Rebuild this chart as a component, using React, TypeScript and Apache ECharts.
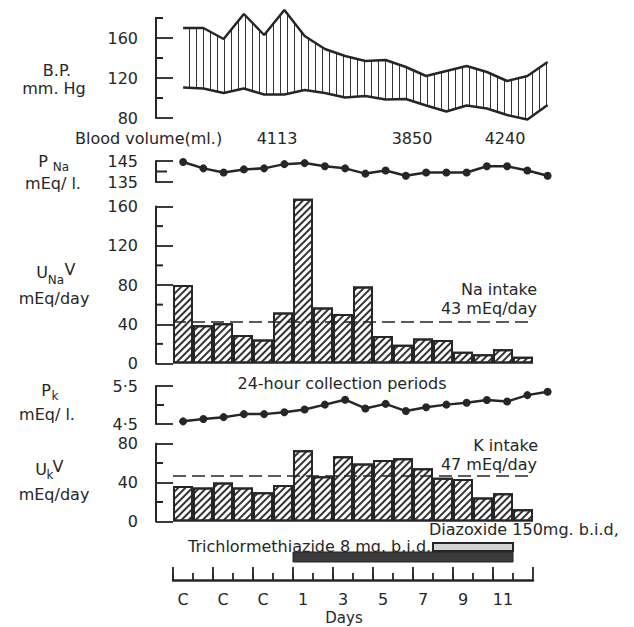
import React, { useEffect, useRef } from 'react';
import * as echarts from 'echarts';

// ---------- data ----------
const BP_SYSTOLIC = [170, 170, 159, 184, 163, 188, 162, 149, 142, 137, 138, 131, 122, 127, 132, 126, 117, 122, 136];
const BP_DIASTOLIC = [110.5, 109.5, 105, 109.5, 103.5, 103.5, 108, 105, 100.5, 102, 98.5, 99, 92.5, 86.5, 92.5, 89.5, 83, 78.5, 93];
const P_NA = [144.5, 141.5, 139.5, 141, 141.5, 143.5, 144, 142.5, 141.5, 139, 140.5, 138, 139.5, 139.5, 139.5, 142.5, 142.5, 140.5, 138];
const U_NA_V = [80, 39, 41, 29, 24.5, 52, 168, 57, 50.5, 78.5, 28, 19, 25.5, 24, 12, 9.5, 14.5, 7];
const P_K = [4.57, 4.63, 4.68, 4.76, 4.76, 4.81, 4.88, 5.01, 5.14, 4.91, 5.03, 4.84, 4.94, 5.01, 5.06, 5.13, 5.09, 5.26, 5.35];
const U_K_V = [36.5, 35, 40, 35, 30, 37.5, 73, 46.5, 67, 59.5, 63, 65, 54.5, 45, 43.5, 24.5, 29, 12.5];
const NA_INTAKE = 43;
const K_INTAKE = 47;
const DAY_LABELS = ['C', '', 'C', '', 'C', '', '1', '2', '3', '4', '5', '6', '7', '8', '9', '10', '11', '12'];
const BLOOD_VOLUME = ['4113', '3850', '4240'];
const TREATMENT_NAMES = ['Trichlormethiazide 8 mg. b.i.d.', 'Diazoxide 150mg. b.i.d,'];
const TREATMENT_START = [6, 13];
const TREATMENT_END = [17, 17];

// ---------- layout / style ----------
const INK = '#262626';
const FONT = '"DejaVu Sans", "Liberation Sans", sans-serif';
const FS = 16;
const LEFT = 173;
const LINE_STEP = 20.25;
const BAR_STEP = 20;
const Y_OFFSET = 17;

const CAT19 = BP_SYSTOLIC.map((_, i) => 'p' + i);
const CAT18 = U_NA_V.map((_, i) => 'd' + i);

// panel specs: grid box, y range, long (labelled) ticks, short ticks
const PANELS = [
  { top: 18, height: 100, cats: CAT19, step: LINE_STEP, min: 80, max: 180, interval: 20, longT: [80, 120, 160], shortT: [100, 140, 180], shortLen: 8 },
  { top: 161, height: 21, cats: CAT19, step: LINE_STEP, min: 135, max: 145, interval: 5, longT: [135, 145], shortT: [140], shortLen: 12 },
  { top: 206.5, height: 157, cats: CAT18, step: BAR_STEP, min: 0, max: 160, interval: 20, longT: [0, 40, 80, 120, 160], shortT: [20, 60, 100, 140], shortLen: 8 },
  { top: 386, height: 38, cats: CAT19, step: LINE_STEP, min: 4.5, max: 5.5, interval: 0.5, longT: [4.5, 5.5], shortT: [5], shortLen: 9 },
  { top: 443.5, height: 78, cats: CAT18, step: BAR_STEP, min: 0, max: 80, interval: 20, longT: [0, 40, 80], shortT: [20, 60], shortLen: 8 },
];
const DAYS_GRID = { top: 530, height: 50 };

const barDecal = { symbol: 'rect', symbolSize: 1, dashArrayX: [1, 0], dashArrayY: [1.2, 3], rotation: -Math.PI / 4, color: '#333' };
const bpDecal = { symbol: 'rect', symbolSize: 1, dashArrayX: [1, 5.5], dashArrayY: [1, 0], rotation: 0, color: '#333' };

function txt(text: string, x: number, y: number, align = 'center', size = FS) {
  return { type: 'text', x, y, silent: true, style: { text, fill: INK, font: `${size}px ${FONT}`, textAlign: align, textVerticalAlign: 'middle' } };
}

function buildOption() {
  const N = PANELS.length; // 5
  const grids: any[] = [];
  const xAxis: any[] = [];
  const yAxis: any[] = [];
  const fmt = (i: number) => (v: number) => (i === 3 ? v.toFixed(1).replace('.', '·') : String(v));

  PANELS.forEach((p, i) => {
    grids.push({ left: LEFT, top: p.top, width: p.cats.length * p.step, height: p.height, outerBoundsMode: 'none' });
    xAxis.push({ type: 'category', gridIndex: i, data: p.cats, boundaryGap: true, show: false });
    yAxis.push({
      type: 'value', gridIndex: i, position: 'left', min: p.min, max: p.max, interval: p.interval, offset: Y_OFFSET,
      axisLine: { show: true, lineStyle: { color: INK, width: 2 } },
      axisTick: { show: true, inside: true, length: 17, customValues: p.longT, lineStyle: { color: INK, width: 1.8 } },
      axisLabel: { show: true, customValues: p.longT, margin: 18, color: INK, fontSize: FS, fontFamily: FONT, formatter: fmt(i) },
      splitLine: { show: false },
    });
  });
  grids.push({ left: LEFT, top: DAYS_GRID.top, width: 18 * BAR_STEP, height: DAYS_GRID.height, outerBoundsMode: 'none' });
  xAxis.push({
    type: 'category', gridIndex: N, data: CAT18, boundaryGap: true, position: 'bottom',
    axisLine: { show: true, lineStyle: { color: INK, width: 2.5 } },
    axisTick: { show: true, inside: true, length: 13, interval: 1, lineStyle: { color: INK, width: 1.8 } },
    axisLabel: { show: true, interval: 1, margin: 11, color: INK, fontSize: FS, fontFamily: FONT,
      formatter: (v: string) => DAY_LABELS[Number(v.slice(1))] },
  });
  yAxis.push({ type: 'value', gridIndex: N, min: 0, max: 50, show: false });

  const lineStyle = { color: INK, width: 2.5 };
  const dotLine = (i: number, data: number[]) => ({
    type: 'line', xAxisIndex: i, yAxisIndex: i, data, symbol: 'circle', symbolSize: 8,
    itemStyle: { color: INK }, lineStyle, clip: false,
  });
  const intakeLine = (v: number) => ({
    silent: true, symbol: ['none', 'none'], label: { show: false },
    lineStyle: { color: INK, width: 1.5, type: [13, 6] }, data: [{ yAxis: v }],
  });
  const bars = (i: number, data: number[], intake: number) => ({
    type: 'bar', xAxisIndex: i, yAxisIndex: i, data, barWidth: '100%', clip: false,
    itemStyle: { color: '#ffffff', borderColor: INK, borderWidth: 2, decal: barDecal },
    markLine: intakeLine(intake),
  });

  // short (unlabelled) y ticks, drawn through each panel's own scale
  const shortTicks = PANELS.map((p, i) => ({
    type: 'custom', xAxisIndex: i, yAxisIndex: i, z: 6, clip: false,
    data: p.shortT.map((v) => [0, v]),
    renderItem: (params: any, api: any) => {
      const pt = api.coord([0, api.value(1)]);
      const w = api.size([1, 0])[0];
      const x0 = pt[0] - w / 2 - Y_OFFSET - 1;
      return { type: 'rect', shape: { x: x0, y: pt[1] - 1, width: p.shortLen, height: 2 }, style: { fill: INK } };
    },
  }));

  // minor day ticks at every day boundary
  const dayTicks = {
    type: 'custom', xAxisIndex: N, yAxisIndex: N, z: 6, clip: false,
    data: CAT18.map((_, i) => [i, 0]),
    renderItem: (params: any, api: any) => {
      const pt = api.coord([api.value(0), 0]);
      const w = api.size([1, 0])[0];
      const x = pt[0] - w / 2;
      return { type: 'rect', shape: { x: x - 0.9, y: pt[1] - 7, width: 1.8, height: 7 }, style: { fill: INK } };
    },
  };

  const series: any[] = [
    {
      type: 'line', xAxisIndex: 0, yAxisIndex: 0, data: BP_DIASTOLIC, stack: 'bp', symbol: 'none',
      lineStyle, z: 4, clip: false,
    },
    {
      type: 'line', xAxisIndex: 0, yAxisIndex: 0, data: BP_SYSTOLIC.map((s, i) => s - BP_DIASTOLIC[i]),
      stack: 'bp', symbol: 'none', lineStyle: { ...lineStyle, decal: bpDecal }, itemStyle: { color: INK, decal: bpDecal },
      areaStyle: { color: 'rgba(255,255,255,0.02)', opacity: 1 }, z: 3, clip: false,
    },
    dotLine(1, P_NA),
    bars(2, U_NA_V, NA_INTAKE),
    dotLine(3, P_K),
    bars(4, U_K_V, K_INTAKE),
    ...shortTicks,
    dayTicks,
    {
      type: 'custom', xAxisIndex: N, yAxisIndex: N,
      data: TREATMENT_START.map((s, i) => [s, TREATMENT_END[i], i]),
      renderItem: (params: any, api: any) => {
        const s = api.value(0), e = api.value(1), row = api.value(2);
        const w = api.size([1, 0])[0];
        const a = api.coord([s, 0]);
        const b = api.coord([e - 1, 0]);
        const x0 = a[0] - w / 2, x1 = b[0] + w / 2;
        const base = a[1];
        const main = row === 0;
        return {
          type: 'rect',
          shape: { x: x0, y: main ? base - 28 : base - 37, width: x1 - x0, height: main ? 10 : 8 },
          style: main ? { fill: '#3a3a3a', stroke: INK, lineWidth: 1 } : { fill: '#d2d2d2', stroke: INK, lineWidth: 2 },
        };
      },
    },
  ];

  const graphic: any[] = [
    txt('B.P.', 57, 70),
    txt('mm. Hg', 54, 88),
    txt('Blood volume(ml.)', 75, 138, 'left'),
    txt(BLOOD_VOLUME[0], 277, 138),
    txt(BLOOD_VOLUME[1], 412, 138),
    txt(BLOOD_VOLUME[2], 505, 138),
    txt('P', 43, 161),
    txt('Na', 61, 167, 'center', 12),
    txt('mEq/ l.', 53, 183),
    txt('U', 42, 272),
    txt('Na', 56, 280, 'center', 12),
    txt('V', 70, 269),
    txt('mEq/day', 54, 298),
    txt('Na intake', 537, 289, 'right'),
    txt('43 mEq/day', 537, 308, 'right'),
    txt('24-hour collection periods', 342, 383),
    txt('P', 46, 390),
    txt('k', 55, 396, 'center', 12),
    txt('mEq/ l.', 47, 414),
    txt('U', 41, 469),
    txt('k', 50, 475, 'center', 12),
    txt('V', 58, 466),
    txt('mEq/day', 54, 494),
    txt('K intake', 538, 445, 'right'),
    txt('47 mEq/day', 537, 464, 'right'),
    txt(TREATMENT_NAMES[0], 188, 546, 'left'),
    txt(TREATMENT_NAMES[1], 429, 529, 'left'),
    txt('Days', 344, 618, 'center', 15),
  ];

  return {
    animation: false,
    backgroundColor: '#ffffff',
    textStyle: { fontFamily: FONT },
    grid: grids,
    xAxis,
    yAxis,
    series,
    graphic,
  };
}

export default function App() {
  const ref = useRef<HTMLDivElement>(null);
  useEffect(() => {
    if (!ref.current) return;
    const chart = echarts.init(ref.current, undefined, { renderer: 'svg' });
    chart.setOption(buildOption() as any);
    return () => chart.dispose();
  }, []);
  return <div ref={ref} style={{ position: 'fixed', left: 0, top: 0, width: 634, height: 627 }} />;
}
